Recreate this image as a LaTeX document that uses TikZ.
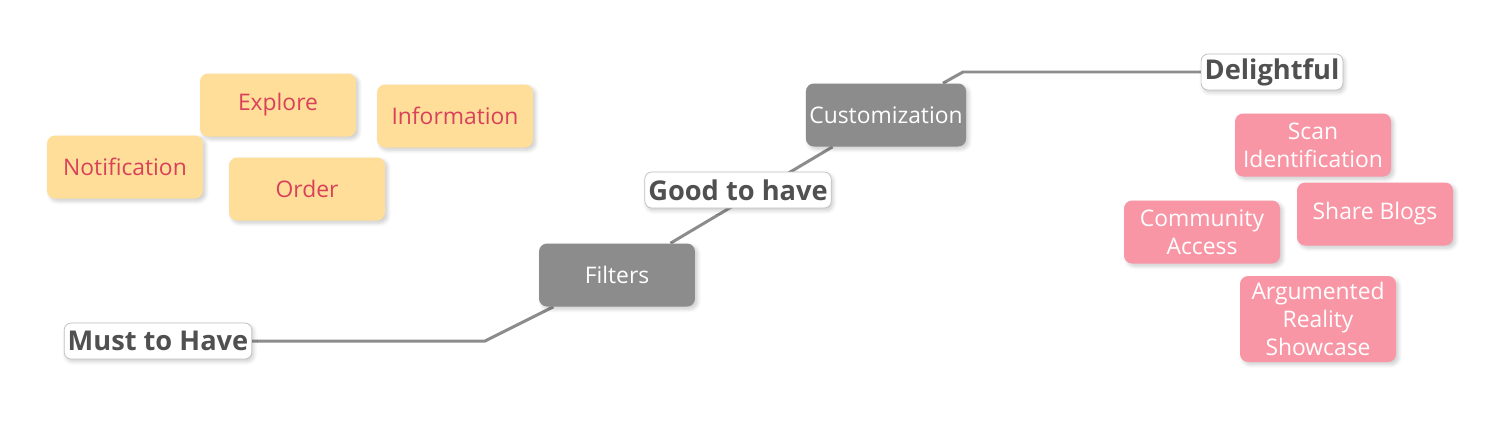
\documentclass[tikz,border=0pt]{standalone}
\usepackage{fontspec}
\setmainfont{Open Sans}
\usetikzlibrary{backgrounds,shadows.blur}

\definecolor{idea}{HTML}{FFDE99}
\definecolor{ideatext}{HTML}{D9415A}
\definecolor{extra}{HTML}{F996A6}
\definecolor{stage}{HTML}{8C8C8C}
\definecolor{labeltext}{HTML}{505050}

\tikzset{
  card/.style={rounded corners=0.16cm, minimum width=3.12cm, minimum height=1.26cm,
    align=center, inner sep=2pt, font=\fontsize{13}{16}\selectfont,
    blur shadow={shadow xshift=1.5pt, shadow yshift=-1.5pt, shadow opacity=20, shadow blur steps=6}},
  ideabox/.style={card, fill=idea, text=ideatext},
  extrabox/.style={card, fill=extra, text=white},
  stagebox/.style={card, fill=stage, text=white},
  level/.style={draw=black!25, fill=white, rounded corners=0.14cm, inner sep=2pt,
    minimum height=0.72cm, text=labeltext, font=\fontsize{15.5}{18}\selectfont\bfseries,
    blur shadow={shadow xshift=1pt, shadow yshift=-1.5pt, shadow opacity=20, shadow blur steps=5}},
  link/.style={draw=stage, line width=1.7pt}
}

\begin{document}
\begin{tikzpicture}[x=0.02cm, y=-0.02cm]
\useasboundingbox (0,0) rectangle (1500,444);

% must to have
\node[ideabox] (notif) at (125,167) {Notification};
\node[ideabox] (explore) at (278,105) {Explore};
\node[ideabox] (info) at (455,116) {Information};
\node[ideabox] (order) at (307,189) {Order};

% spine
\node[level] (must) at (158,341) {Must to Have};
\node[stagebox] (filters) at (617,275) {Filters};
\node[level] (good) at (738,190) {Good to have};
\node[stagebox] (custom) at (886,115) {Customization};
\node[level] (delight) at (1272,72) {Delightful};

% delightful
\node[extrabox] (scan) at (1313,145) {Scan\\Identification};
\node[extrabox] (share) at (1375,214) {Share Blogs};
\node[extrabox] (community) at (1202,232) {Community\\Access};
\node[extrabox, minimum height=1.72cm] (ar) at (1318,319) {Argumented\\Reality\\Showcase};

\coordinate (bendA) at (485,341);
\coordinate (bendB) at (963,72);

\begin{scope}[on background layer]
\draw[link] (must) -- (bendA) -- (filters);
\draw[link] (filters) -- (custom);
\draw[link] (custom) -- (bendB) -- (delight);
\end{scope}
\end{tikzpicture}
\end{document}
